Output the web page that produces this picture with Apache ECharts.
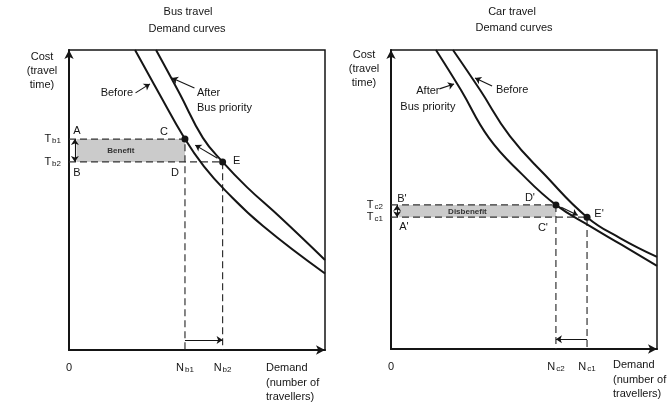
<!DOCTYPE html>
<html><head><meta charset="utf-8">
<script src="https://cdn.jsdelivr.net/npm/echarts@6/dist/echarts.min.js"></script>
<style>html,body{margin:0;padding:0;background:#fff}#c{width:672px;height:407px}</style>
</head><body><div id="c"></div>
<script>
// ---- data ----
const busBefore = [[2.58,10],[3.52,8.55],[4.53,7.03],[5.27,6.12],[6.09,5.33],[7.58,4.13],[10,2.55]];
const busAfter  = [[3.40,10],[4.32,8.55],[5.23,7.07],[6.0,6.27],[6.95,5.43],[8.24,4.43],[10,3.0]];
const carBefore = [[2.33,10],[3.35,8.66],[4.47,7.12],[5.79,5.82],[7.37,4.41],[8.61,3.71],[10,3.08]];
const carAfter  = [[1.69,10],[2.63,8.66],[3.68,7.06],[4.92,5.85],[6.2,4.82],[7.48,4.11],[8.68,3.48],[10,2.78]];
const busT = [7.03, 6.27];   // T_b1, T_b2
const busN = [4.53, 6.0];    // N_b1, N_b2
const carT = [4.82, 4.41];   // T_c2, T_c1
const carN = [6.2, 7.37];    // N_c2, N_c1
const busTTicks = ['b1','b2'];
const busNTicks = ['b1','b2'];
const carTTicks = ['c2','c1'];
const carNTicks = ['c2','c1'];
const busPointNames = ['A','B','C','D','E'];
const carPointNames = ["B'","A'","D'","C'","E'"];

const FONT = 'Liberation Sans';
const INK = '#151515';
const RICH = {
  m:{fontSize:11, fontFamily:FONT, color:INK, lineHeight:11},
  s:{fontSize:8, fontFamily:FONT, color:INK, padding:[4,0,0,1], lineHeight:7}
};

function xAx(gi, vals, subs){
  return {type:'value', gridIndex:gi, min:0, max:10,
    splitLine:{show:false}, axisTick:{show:false},
    axisLine:{show:true, onZero:false, symbol:['none','arrow'], symbolSize:[7,9], lineStyle:{color:INK, width:2}},
    axisLabel:{customValues:[0].concat(vals), margin:12, hideOverlap:false,
      formatter:v => v===0 ? '{m|0}' : '{m|N}{s|'+subs[vals.indexOf(v)]+'}', rich:RICH}};
}
function yAx(gi, vals, subs){
  return {type:'value', gridIndex:gi, min:0, max:10,
    splitLine:{show:false}, axisTick:{show:false},
    axisLine:{show:true, onZero:false, symbol:['none','arrow'], symbolSize:[7,9], lineStyle:{color:INK, width:2}},
    axisLabel:{customValues:vals.slice(), margin:8, hideOverlap:false,
      formatter:v => '{m|T}{s|'+subs[vals.indexOf(v)]+'}', rich:RICH}};
}
const curveStyle = {color:INK, width:2};
const dashStyle = {color:'#333', width:1.2, type:[7,4]};
const arrowLine = {type:'solid', color:INK, width:1.1};

function curve(gi, data){
  return {type:'line', xAxisIndex:gi, yAxisIndex:gi, data, smooth:0.45,
    showSymbol:false, lineStyle:curveStyle, silent:true, z:3};
}
function dashPath(gi, n, t, extra){
  return Object.assign({type:'line', xAxisIndex:gi, yAxisIndex:gi,
    data:[[0,t],[n,t],[n,0]], showSymbol:false, lineStyle:dashStyle, silent:true, z:2}, extra||{});
}
function seg(a, b, s0, s1){
  return [{coord:a, symbol:s0||'none', symbolSize:6},{coord:b, symbol:s1||'arrow', symbolSize:6}];
}
function lbl(x, y, text, offset, extra){
  return {value:[x,y], label:Object.assign({show:true, formatter:text, offset, position:'inside',
    fontFamily:FONT, fontSize:11, color:INK, opacity:1}, extra||{})};
}

const busLabels = [
  lbl(0, busT[0], busPointNames[0], [8,-8]),
  lbl(0, busT[1], busPointNames[1], [8,11]),
  lbl(busN[0], busT[0], busPointNames[2], [-21,-7]),
  lbl(busN[0], busT[1], busPointNames[3], [-10,11]),
  lbl(busN[1], busT[1], busPointNames[4], [14,-1]),
  lbl(2.58, 8.57, 'Before', [-2,0], {align:'right'}),
  lbl(4.92, 8.73, 'After\nBus priority', [2,12], {align:'left', lineHeight:15})
];
const carLabels = [
  lbl(0, carT[0], carPointNames[0], [11,-6]),
  lbl(0, carT[1], carPointNames[1], [13,10]),
  lbl(carN[0], carT[0], carPointNames[2], [-26,-7]),
  lbl(carN[0], carT[1], carPointNames[3], [-13,11]),
  lbl(carN[1], carT[1], carPointNames[4], [12,-3]),
  lbl(1.80, 8.70, 'After\nBus priority', [-11,10], {align:'center', lineHeight:16}),
  lbl(3.83, 8.80, 'Before', [3,4], {align:'left'})
];
const labelSeries = (gi, data) => ({type:'scatter', xAxisIndex:gi, yAxisIndex:gi, symbolSize:0,
  itemStyle:{opacity:1}, silent:true, z:5, data});
const dotSeries = (gi, data) => ({type:'scatter', xAxisIndex:gi, yAxisIndex:gi, symbolSize:7,
  itemStyle:{color:INK, opacity:1}, silent:true, z:4, data});

const option = {
  backgroundColor:'#fff',
  animation:false,
  grid:[
    {left:69, top:50, width:256, height:300, show:true, borderColor:INK, borderWidth:1.5, backgroundColor:'transparent'},
    {left:391, top:50, width:266, height:299, show:true, borderColor:INK, borderWidth:1.5, backgroundColor:'transparent'}
  ],
  xAxis:[xAx(0, busN, busNTicks), xAx(1, carN, carNTicks)],
  yAxis:[yAx(0, busT, busTTicks), yAx(1, carT, carTTicks)],
  series:[
    curve(0, busBefore), curve(0, busAfter),
    dashPath(0, busN[0], busT[0], {
      markArea:{silent:true, itemStyle:{color:'#cbcbcb'},
        label:{show:true, position:'inside', formatter:'Benefit', fontFamily:FONT, fontSize:8, fontWeight:'bold', color:'#333', offset:[-10,0]},
        data:[[{coord:[0.3,busT[0]]},{coord:[busN[0],busT[1]]}]]},
      markLine:{silent:true, label:{show:false}, lineStyle:arrowLine,
        data:[
          seg([0.23,busT[0]],[0.23,busT[1]],'arrow','arrow'),
          seg([busN[0],0.33],[busN[1],0.33]),
          seg([busN[1]-0.2,busT[1]+0.12],[busN[0]+0.4,busT[0]-0.2]),
          seg([2.6,8.57],[3.16,8.87]),
          seg([4.9,8.73],[4.02,9.07])
        ]}
    }),
    dashPath(0, busN[1], busT[1]),
    dotSeries(0, [[busN[0],busT[0]],[busN[1],busT[1]]]),
    labelSeries(0, busLabels),

    curve(1, carBefore), curve(1, carAfter),
    dashPath(1, carN[0], carT[0], {
      markArea:{silent:true, itemStyle:{color:'#cbcbcb'},
        label:{show:true, position:'inside', formatter:'Disbenefit', fontFamily:FONT, fontSize:8, fontWeight:'bold', color:'#333', offset:[-10,1]},
        data:[[{coord:[0.3,carT[0]]},{coord:[carN[0],carT[1]]}]]},
      markLine:{silent:true, label:{show:false}, lineStyle:arrowLine,
        data:[
          seg([0.23,carT[0]],[0.23,carT[1]],'arrow','arrow'),
          seg([carN[1],0.33],[carN[0],0.33]),
          seg([carN[0]+0.2,carT[0]-0.08],[carN[1]-0.35,carT[1]+0.06]),
          seg([1.82,8.70],[2.37,8.86]),
          seg([3.8,8.80],[3.16,9.06])
        ]}
    }),
    dashPath(1, carN[1], carT[1]),
    dotSeries(1, [[carN[0],carT[0]],[carN[1],carT[1]]]),
    labelSeries(1, carLabels)
  ],
  graphic:[
    {type:'text', style:{x:188, y:12, text:'Bus travel', font:'11px '+FONT, fill:INK, align:'center', verticalAlign:'middle'}},
    {type:'text', style:{x:187, y:29, text:'Demand curves', font:'11px '+FONT, fill:INK, align:'center', verticalAlign:'middle'}},
    {type:'text', style:{x:512, y:12, text:'Car travel', font:'11px '+FONT, fill:INK, align:'center', verticalAlign:'middle'}},
    {type:'text', style:{x:514, y:28, text:'Demand curves', font:'11px '+FONT, fill:INK, align:'center', verticalAlign:'middle'}},
    {type:'text', style:{x:42, y:50, text:'Cost\n(travel\ntime)', font:'11px '+FONT, lineHeight:14, fill:INK, align:'center', verticalAlign:'top'}},
    {type:'text', style:{x:364, y:48, text:'Cost\n(travel\ntime)', font:'11px '+FONT, lineHeight:14, fill:INK, align:'center', verticalAlign:'top'}},
    {type:'text', style:{x:266, y:361, text:'Demand\n(number of\ntravellers)', font:'11px '+FONT, lineHeight:14.5, fill:INK, align:'left', verticalAlign:'top'}},
    {type:'text', style:{x:613, y:358, text:'Demand\n(number of\ntravellers)', font:'11px '+FONT, lineHeight:14.5, fill:INK, align:'left', verticalAlign:'top'}}
  ]
};
echarts.init(document.getElementById('c'), null, {renderer:'canvas'}).setOption(option);
</script></body></html>
